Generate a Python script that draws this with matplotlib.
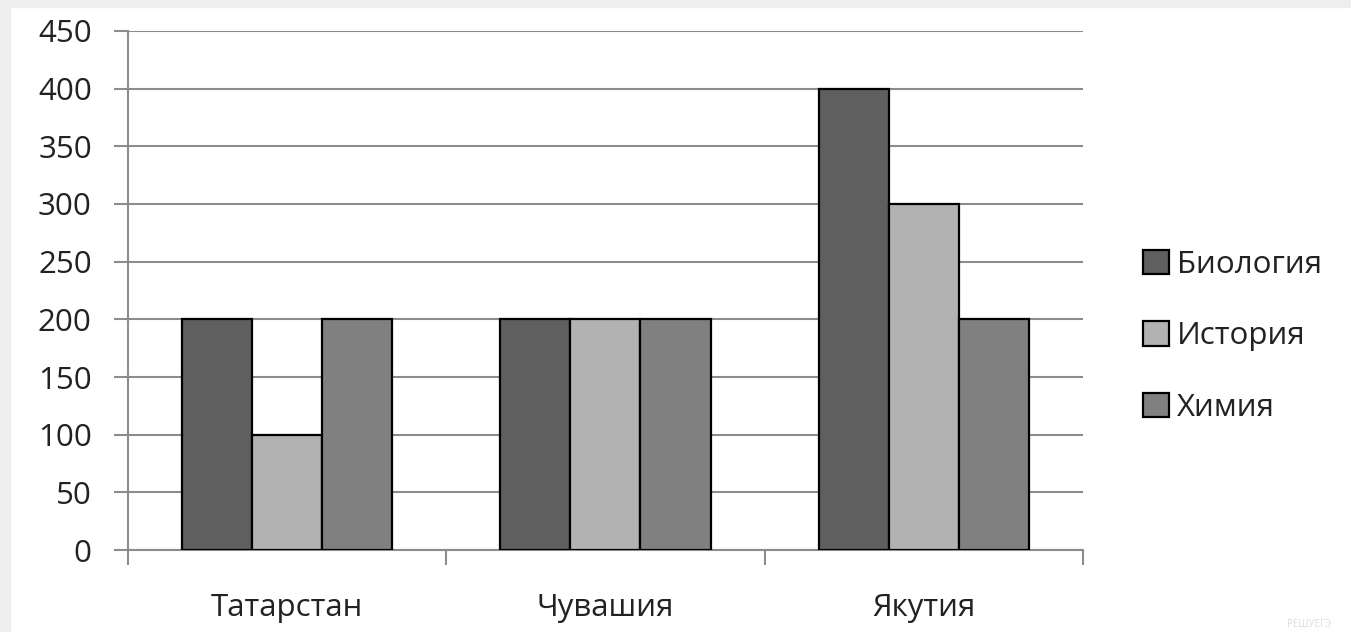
import numpy as np
import matplotlib.pyplot as plt
import matplotlib.patches as patches

# data
regions = ['Татарстан', 'Чувашия', 'Якутия']
subjects = ['Биология', 'История', 'Химия']
biology = [200, 200, 400]
history = [100, 200, 300]
chemistry = [200, 200, 200]
yticks = [0, 50, 100, 150, 200, 250, 300, 350, 400, 450]

colors = ['#5f5f5f', '#b2b2b2', '#808080']
plt.rcParams['font.family'] = ['Open Sans', 'DejaVu Sans']

fig = plt.figure(figsize=(13.51, 6.32), dpi=100)
fig.patch.set_facecolor('white')
ax = fig.add_axes([0.0947, 0.1297, 0.7069, 0.8213])

x = np.arange(len(regions))
w = 0.22
for i, (vals, c, name) in enumerate(zip([biology, history, chemistry], colors, subjects)):
    ax.bar(x + (i - 1) * w, vals, width=w, color=c, edgecolor='black',
           linewidth=1.6, label=name, zorder=3)

ax.set_xlim(-0.5, 2.5)
ax.set_ylim(0, 450)
ax.set_yticks(yticks)
ax.yaxis.grid(True, color='#8c8c8c', linewidth=1.5, zorder=0)

for s in ['top', 'right']:
    ax.spines[s].set_visible(False)
for s in ['left', 'bottom']:
    ax.spines[s].set_color('#8c8c8c')
    ax.spines[s].set_linewidth(1.5)

# x ticks at category boundaries, labels in the middle
ax.set_xticks([-0.5, 0.5, 1.5, 2.5])
ax.set_xticklabels([])
ax.set_xticks(x, minor=True)
ax.set_xticklabels(regions, minor=True)
ax.tick_params(axis='x', which='major', length=11, width=1.5, color='#8c8c8c')
ax.tick_params(axis='x', which='minor', length=0, pad=31, labelsize=22.5, labelcolor='#222222')
ax.tick_params(axis='y', length=10, width=1.5, color='#8c8c8c', labelsize=22.5,
               labelcolor='#222222', pad=16)

ax.legend(loc='center left', bbox_to_anchor=(1.033, 0.412), frameon=False,
          fontsize=22.5, handlelength=0.85, handleheight=0.85, handletextpad=0.25,
          labelspacing=1.32, labelcolor='#222222')

# light gray frame on top and left of the original screenshot
fig.patches.append(patches.Rectangle((0, 1 - 7 / 632), 1, 7 / 632, transform=fig.transFigure,
                                     color='#eeeeee', zorder=-1))
fig.patches.append(patches.Rectangle((0, 0), 10 / 1351, 1, transform=fig.transFigure,
                                     color='#eeeeee', zorder=-1))
fig.text(0.985, 0.003, 'РЕШУЕГЭ', ha='right', va='bottom', fontsize=7, color='#dddddd')

fig.savefig('out.png', dpi=100)
